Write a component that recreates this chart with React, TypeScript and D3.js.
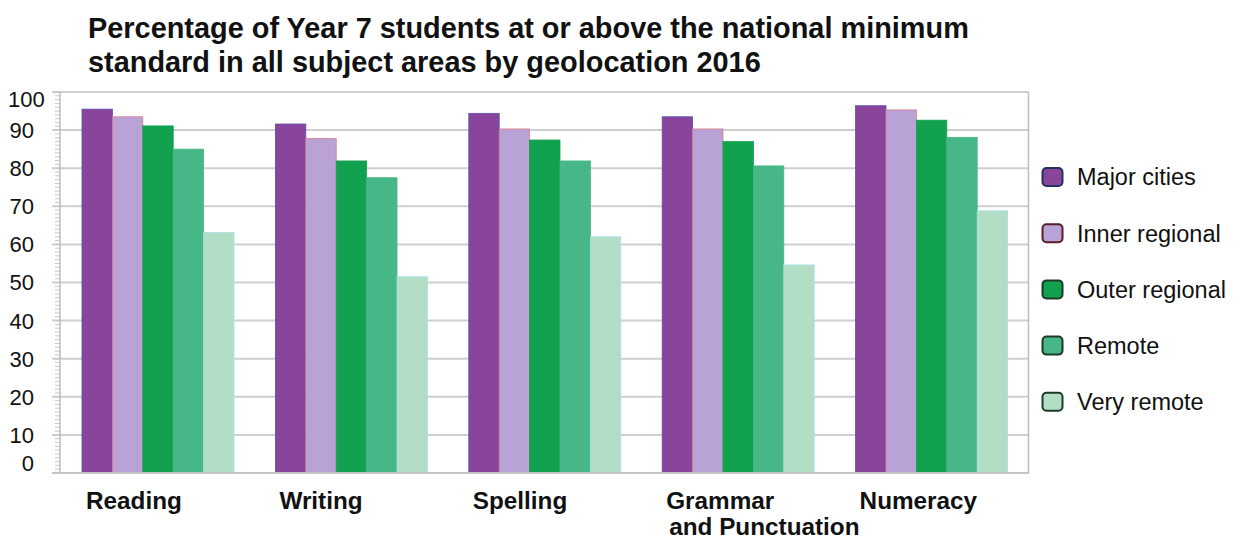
import React from "react";
import * as d3 from "d3";

const categories = ["Reading", "Writing", "Spelling", "Grammar and Punctuation", "Numeracy"];
const categoryLabelLines = [["Reading"], ["Writing"], ["Spelling"], ["Grammar", "and Punctuation"], ["Numeracy"]];
const seriesNames = ["Major cities", "Inner regional", "Outer regional", "Remote", "Very remote"];
const majorCities = [95.5, 91.6, 94.4, 93.5, 96.4];
const innerRegional = [93.5, 87.8, 90.3, 90.3, 95.3];
const outerRegional = [91.1, 81.9, 87.4, 87.0, 92.6];
const remote = [85.0, 77.5, 81.9, 80.6, 88.1];
const veryRemote = [63.1, 51.5, 62.0, 54.6, 68.8];
const yTicks = [0, 10, 20, 30, 40, 50, 60, 70, 80, 90, 100];
const titleLines = [
  "Percentage of Year 7 students at or above the national minimum",
  "standard in all subject areas by geolocation 2016",
];

const seriesValues = [majorCities, innerRegional, outerRegional, remote, veryRemote];
const fills = ["#88459b", "#b9a3d6", "#12a14f", "#47b788", "#b3dec6"];
const barStrokes = ["#5a4fa8", "#e07a8a", "#12a14f", "#47b788", "#a9dfe6"];
const legendStrokes = ["#24305e", "#5a1c26", "#1d3a26", "#1d3a26", "#1d3a26"];

const FONT = "'Liberation Sans', Arial, Helvetica, sans-serif";

export default function App() {
  const W = 1240;
  const H = 540;
  const plotLeft = 60;
  const plotRight = 1028.5;
  const plotTop = 92;
  const plotBottom = 473;

  const y = d3.scaleLinear().domain([0, 100]).range([plotBottom, plotTop]);
  const x0 = d3
    .scaleBand<string>()
    .domain(categories)
    .range([61.3, 1028.3])
    .paddingInner(0.214)
    .paddingOuter(0.107);
  const x1 = d3
    .scaleBand<string>()
    .domain(seriesNames)
    .range([0, x0.bandwidth()]);

  const minorTicks = d3.range(0, 101, 1);
  const tickFont = 22;

  return (
    <svg
      width={W}
      height={H}
      viewBox={`0 0 ${W} ${H}`}
      style={{ position: "absolute", left: 0, top: 0, background: "#fff" }}
      fontFamily={FONT}
    >
      <rect x={0} y={0} width={W} height={H} fill="#fff" />
      {/* Title */}
      {titleLines.map((t, i) => (
        <text key={t} x={88} y={38 + i * 34} fontSize={28.9} fontWeight="bold" fill="#111">
          {t}
        </text>
      ))}

      {/* Gridlines */}
      {yTicks.map((t) => (
        <line
          key={"g" + t}
          x1={52}
          x2={plotRight}
          y1={y(t)}
          y2={y(t)}
          stroke="#cfcfcf"
          strokeWidth={2}
        />
      ))}
      {/* minor ticks */}
      {minorTicks.map((t) => (
        <line
          key={"m" + t}
          x1={55}
          x2={plotLeft}
          y1={y(t)}
          y2={y(t)}
          stroke="#c8c8c8"
          strokeWidth={1}
        />
      ))}
      {/* axes frame */}
      <line x1={plotLeft} x2={plotLeft} y1={plotTop} y2={plotBottom} stroke="#bdbdbd" strokeWidth={1.5} />
      <line x1={plotRight} x2={plotRight} y1={plotTop} y2={plotBottom} stroke="#bdbdbd" strokeWidth={1.5} />

      {/* Y tick labels */}
      {yTicks.map((t) => {
        const label = String(t);
        const w = label.length * 0.556 * tickFont;
        const xEnd = Math.max(34, 8 + w);
        const cy = Math.min(Math.max(y(t), 99), 463);
        return (
          <text
            key={"t" + t}
            x={xEnd}
            y={cy}
            dy="0.36em"
            textAnchor="end"
            fontSize={tickFont}
            fill="#111"
          >
            {label}
          </text>
        );
      })}

      {/* Bars */}
      {categories.map((c, ci) => (
        <g key={c} transform={`translate(${x0(c)},0)`}>
          {seriesNames.map((s, si) => {
            const v = seriesValues[si][ci];
            return (
              <rect
                key={s}
                x={x1(s)}
                y={y(v)}
                width={x1.bandwidth()}
                height={y(0) - y(v)}
                fill={fills[si]}
                stroke={barStrokes[si]}
                strokeWidth={0.8}
              />
            );
          })}
        </g>
      ))}

      {/* baseline */}
      <line x1={52} x2={plotRight} y1={y(0)} y2={y(0)} stroke="#c4c4c4" strokeWidth={2} />

      {/* Category labels */}
      {categories.map((c, ci) => (
        <text key={"c" + c} fontSize={24.3} fontWeight="bold" fill="#111">
          {categoryLabelLines[ci].map((line, li) => (
            <tspan key={line} x={(x0(c) as number) + 4 + li * 3} y={509 + li * 26}>
              {line}
            </tspan>
          ))}
        </text>
      ))}

      {/* Legend */}
      {seriesNames.map((s, i) => {
        const cy = 177 + i * 56.2;
        return (
          <g key={"l" + s}>
            <rect
              x={1042.5}
              y={cy - 9}
              width={20}
              height={18}
              rx={4}
              fill={fills[i]}
              stroke={legendStrokes[i]}
              strokeWidth={2}
            />
            <text x={1077} y={cy} dy="0.36em" fontSize={23.5} fill="#111">
              {s}
            </text>
          </g>
        );
      })}
    </svg>
  );
}
